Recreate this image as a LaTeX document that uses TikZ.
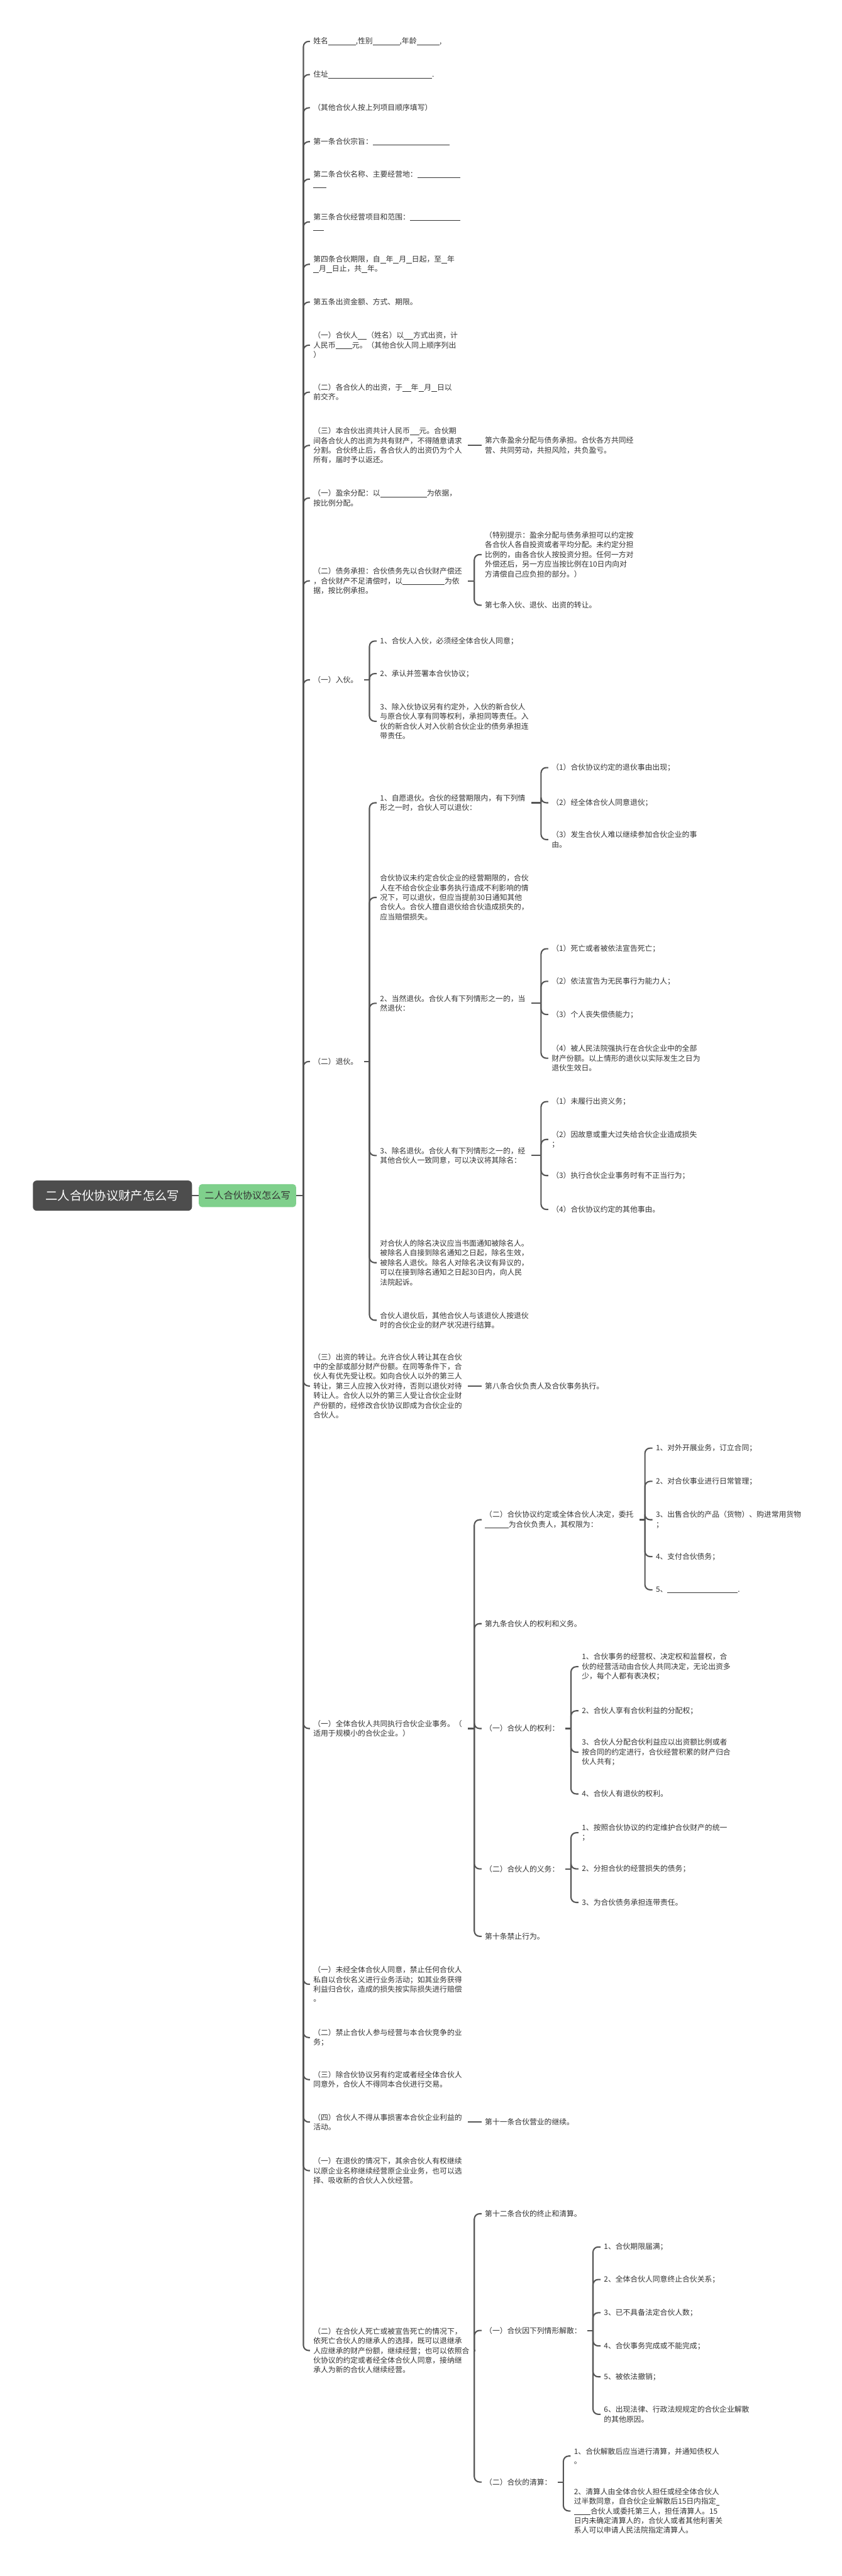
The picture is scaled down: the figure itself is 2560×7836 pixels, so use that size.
\documentclass[tikz,border=0pt]{standalone}
\usepackage{fontspec}
\setmainfont{Noto Sans CJK SC}
\definecolor{txt}{HTML}{333333}
\definecolor{ln}{HTML}{555555}
\definecolor{rootc}{HTML}{4D4D4D}
\definecolor{grn}{HTML}{7FD08C}
\newcommand\bl[1]{\rule[-2pt]{#1pt}{0.9pt}}
\begin{document}
\begin{tikzpicture}[x=0.5pt,y=-0.5pt,
  t/.style={anchor=west,inner sep=0pt,align=left,text=txt,font=\fontsize{11.3pt}{14.75pt}\selectfont},
  conn/.style={draw=ln,line width=2pt,rounded corners=8pt},
  rootbox/.style={fill=rootc,text=white,rounded corners=6pt,minimum width=242pt,minimum height=46pt,inner sep=0pt,font=\fontsize{18.5pt}{22pt}\selectfont},
  branchbox/.style={fill=grn,text=txt,rounded corners=5pt,minimum width=148pt,minimum height=35pt,inner sep=0pt,font=\fontsize{14.5pt}{18pt}\selectfont}]
\path[fill=white] (0,0) rectangle (2560,7836);
\useasboundingbox (0,0) rectangle (2560,7836);
% root and branch
\node[rootbox] (R) at (342,3637) {二人合伙协议财产怎么写};
\node[branchbox] (G) at (753,3637) {二人合伙协议怎么写};
% level 2
\node[t] (L1) at (953,126) {姓名\bl{42},性别\bl{41},年龄\bl{35},};
\node[t] (L2) at (953,227) {住址\bl{158}.};
\node[t] (L3) at (953,328) {（其他合伙人按上列项目顺序填写）};
\node[t] (L4) at (953,431) {第一条合伙宗旨：\bl{117}};
\node[t] (L5) at (953,545) {第二条合伙名称、主要经营地：\bl{65}\\\bl{20}};
\node[t] (L6) at (953,675) {第三条合伙经营项目和范围：\bl{77}\\\bl{16}};
\node[t] (L7) at (953,804) {第四条合伙期限，自\bl{8.5}年\bl{8.5}月\bl{8.5}日起，至\bl{8.5}年\\\bl{8.5}月\bl{8.5}日止，共\bl{8.5}年。};
\node[t] (L8) at (953,919) {第五条出资金额、方式、期限。};
\node[t] (L9) at (953,1050) {（一）合伙人\bl{13.5}（姓名）以\bl{14}方式出资，计\\人民币\bl{25}元。（其他合伙人同上顺序列出\\）};
\node[t] (L10) at (953,1193) {（二）各合伙人的出资，于\bl{13}年\bl{8.5}月\bl{8.5}日以\\前交齐。};
\node[t] (L11) at (953,1355) {（三）本合伙出资共计人民币\bl{14}元。合伙期\\间各合伙人的出资为共有财产，不得随意请求\\分割。合伙终止后，各合伙人的出资仍为个人\\所有，届时予以返还。};
\node[t] (L12) at (953,1515) {（一）盈余分配：以\bl{71}为依据，\\按比例分配。};
\node[t] (L13) at (953,1767) {（二）债务承担：合伙债务先以合伙财产偿还\\，合伙财产不足清偿时，以\bl{64}为依\\据，按比例承担。};
\node[t] (L14) at (953,2068) {（一）入伙。};
\node[t] (L15) at (953,3229) {（二）退伙。};
\node[t] (L16) at (953,4216) {（三）出资的转让。允许合伙人转让其在合伙\\中的全部或部分财产份额。在同等条件下，合\\伙人有优先受让权。如向合伙人以外的第三人\\转让，第三人应按入伙对待，否则以退伙对待\\转让人。合伙人以外的第三人受让合伙企业财\\产份额的，经修改合伙协议即成为合伙企业的\\合伙人。};
\node[t] (L17) at (953,5258) {（一）全体合伙人共同执行合伙企业事务。（\\适用于规模小的合伙企业。）};
\node[t] (L18) at (953,6036) {（一）未经全体合伙人同意，禁止任何合伙人\\私自以合伙名义进行业务活动；如其业务获得\\利益归合伙，造成的损失按实际损失进行赔偿\\。};
\node[t] (L19) at (953,6198) {（二）禁止合伙人参与经营与本合伙竞争的业\\务；};
\node[t] (L20) at (953,6326) {（三）除合伙协议另有约定或者经全体合伙人\\同意外，合伙人不得同本合伙进行交易。};
\node[t] (L21) at (953,6455) {（四）合伙人不得从事损害本合伙企业利益的\\活动。};
\node[t] (L22) at (953,6603) {（一）在退伙的情况下，其余合伙人有权继续\\以原企业名称继续经营原企业业务，也可以选\\择、吸收新的合伙人入伙经营。};
\node[t] (L23) at (953,7150) {（二）在合伙人死亡或被宣告死亡的情况下，\\依死亡合伙人的继承人的选择，既可以退继承\\人应继承的财产份额，继续经营；也可以依照合\\伙协议的约定或者经全体合伙人同意，接纳继\\承人为新的合伙人继续经营。};
% level 3
\node[t] (A6) at (1475,1355) {第六条盈余分配与债务承担。合伙各方共同经\\营、共同劳动，共担风险，共负盈亏。};
\node[t] (Atip) at (1475,1687) {（特别提示：盈余分配与债务承担可以约定按\\各合伙人各自投资或者平均分配。未约定分担\\比例的，由各合伙人按投资分担。任何一方对\\外偿还后，另一方应当按比例在10日内向对\\方清偿自己应负担的部分。）};
\node[t] (A7) at (1475,1841) {第七条入伙、退伙、出资的转让。};
\node[t] (B1) at (1156,1950) {1、合伙人入伙，必须经全体合伙人同意；};
\node[t] (B2) at (1156,2049) {2、承认并签署本合伙协议；};
\node[t] (B3) at (1156,2194) {3、除入伙协议另有约定外，入伙的新合伙人\\与原合伙人享有同等权利，承担同等责任。入\\伙的新合伙人对入伙前合伙企业的债务承担连\\带责任。};
\node[t] (C1) at (1156,2442) {1、自愿退伙。合伙的经营期限内，有下列情\\形之一时，合伙人可以退伙：};
\node[t] (C2) at (1156,2730) {合伙协议未约定合伙企业的经营期限的，合伙\\人在不给合伙企业事务执行造成不利影响的情\\况下，可以退伙，但应当提前30日通知其他\\合伙人。合伙人擅自退伙给合伙造成损失的，\\应当赔偿损失。};
\node[t] (C3) at (1156,3052) {2、当然退伙。合伙人有下列情形之一的，当\\然退伙：};
\node[t] (C4) at (1156,3515) {3、除名退伙。合伙人有下列情形之一的，经\\其他合伙人一致同意，可以决议将其除名：};
\node[t] (C5) at (1156,3841) {对合伙人的除名决议应当书面通知被除名人。\\被除名人自接到除名通知之日起，除名生效，\\被除名人退伙。除名人对除名决议有异议的，\\可以在接到除名通知之日起30日内，向人民\\法院起诉。};
\node[t] (C6) at (1156,4016) {合伙人退伙后，其他合伙人与该退伙人按退伙\\时的合伙企业的财产状况进行结算。};
\node[t] (A8) at (1475,4216) {第八条合伙负责人及合伙事务执行。};
\node[t] (D1) at (1475,4623) {（二）合伙协议约定或全体合伙人决定，委托\\\bl{36}为合伙负责人，其权限为：};
\node[t] (D2) at (1475,4939) {第九条合伙人的权利和义务。};
\node[t] (D3) at (1475,5258) {（一）合伙人的权利：};
\node[t] (D4) at (1475,5685) {（二）合伙人的义务：};
\node[t] (D5) at (1475,5890) {第十条禁止行为。};
\node[t] (A11) at (1475,6455) {第十一条合伙营业的继续。};
\node[t] (E1) at (1475,6734) {第十二条合伙的终止和清算。};
\node[t] (E2) at (1475,7089) {（一）合伙因下列情形解散：};
\node[t] (E3) at (1475,7550) {（二）合伙的清算：};
% level 4
\node[t] (C1a) at (1678,2335) {（1）合伙协议约定的退伙事由出现；};
\node[t] (C1b) at (1678,2442) {（2）经全体合伙人同意退伙；};
\node[t] (C1c) at (1678,2554) {（3）发生合伙人难以继续参加合伙企业的事\\由。};
\node[t] (C3a) at (1678,2886) {（1）死亡或者被依法宣告死亡；};
\node[t] (C3b) at (1678,2985) {（2）依法宣告为无民事行为能力人；};
\node[t] (C3c) at (1678,3086) {（3）个人丧失偿债能力；};
\node[t] (C3d) at (1678,3219) {（4）被人民法院强执行在合伙企业中的全部\\财产份额。以上情形的退伙以实际发生之日为\\退伙生效日。};
\node[t] (C4a) at (1678,3351) {（1）未履行出资义务；};
\node[t] (C4b) at (1678,3466) {（2）因故意或重大过失给合伙企业造成损失\\；};
\node[t] (C4c) at (1678,3576) {（3）执行合伙企业事务时有不正当行为；};
\node[t] (C4d) at (1678,3679) {（4）合伙协议约定的其他事由。};
\node[t] (D1a) at (1995,4405) {1、对外开展业务，订立合同；};
\node[t] (D1b) at (1995,4506) {2、对合伙事业进行日常管理；};
\node[t] (D1c) at (1995,4623) {3、出售合伙的产品（货物）、购进常用货物\\；};
\node[t] (D1d) at (1995,4735) {4、支付合伙债务；};
\node[t] (D1e) at (1995,4836) {5、\bl{107}.};
\node[t] (D3a) at (1770,5070) {1、合伙事务的经营权、决定权和监督权，合\\伙的经营活动由合伙人共同决定，无论出资多\\少，每个人都有表决权；};
\node[t] (D3b) at (1770,5204) {2、合伙人享有合伙利益的分配权；};
\node[t] (D3c) at (1770,5330) {3、合伙人分配合伙利益应以出资额比例或者\\按合同的约定进行，合伙经营积累的财产归合\\伙人共有；};
\node[t] (D3d) at (1770,5457) {4、合伙人有退伙的权利。};
\node[t] (D4a) at (1770,5575) {1、按照合伙协议的约定维护合伙财产的统一\\；};
\node[t] (D4b) at (1770,5685) {2、分担合伙的经营损失的债务；};
\node[t] (D4c) at (1770,5787) {3、为合伙债务承担连带责任。};
\node[t] (E2a) at (1837,6835) {1、合伙期限届满；};
\node[t] (E2b) at (1837,6934) {2、全体合伙人同意终止合伙关系；};
\node[t] (E2c) at (1837,7035) {3、已不具备法定合伙人数；};
\node[t] (E2d) at (1837,7136) {4、合伙事务完成或不能完成；};
\node[t] (E2e) at (1837,7230) {5、被依法撤销；};
\node[t] (E2f) at (1837,7344) {6、出现法律、行政法规规定的合伙企业解散\\的其他原因。};
\node[t] (E3a) at (1746,7471) {1、合伙解散后应当进行清算，并通知债权人\\。};
\node[t] (E3b) at (1746,7638) {2、清算人由全体合伙人担任或经全体合伙人\\过半数同意，自合伙企业解散后15日内指定\bl{5}\\\bl{25}合伙人或委托第三人，担任清算人。15\\日内未确定清算人的，合伙人或者其他利害关\\系人可以申请人民法院指定清算人。};
% connectors
\draw[conn] (R.east) -- (G.west);
\coordinate (t0) at (923,3637);
\draw[conn] (G.east) -- (t0);
\foreach \n in {L1,L2,L3,L4,L5,L6,L7,L8,L9,L10,L11,L12,L13,L14,L15,L16,L17,L18,L19,L20,L21,L22,L23}
  \draw[conn] (t0) |- ([xshift=-5pt]\n.west);
\draw[conn] ([xshift=9pt]L11.east) -- ([xshift=-5pt]A6.west);
\draw[conn] ([xshift=9pt]L16.east) -- ([xshift=-5pt]A8.west);
\draw[conn] ([xshift=9pt]L21.east) -- ([xshift=-5pt]A11.west);
\coordinate (t13) at (1443,1767);
\draw[conn] ([xshift=9pt]L13.east) -- (t13);
\foreach \n in {Atip,A7} \draw[conn] (t13) |- ([xshift=-5pt]\n.west);
\coordinate (t14) at (1124,2068);
\draw[conn] ([xshift=9pt]L14.east) -- (t14);
\foreach \n in {B1,B2,B3} \draw[conn] (t14) |- ([xshift=-5pt]\n.west);
\coordinate (t15) at (1124,3229);
\draw[conn] ([xshift=9pt]L15.east) -- (t15);
\foreach \n in {C1,C2,C3,C4,C5,C6} \draw[conn] (t15) |- ([xshift=-5pt]\n.west);
\coordinate (tc1) at (1646,2442);
\draw[conn] ([xshift=9pt]C1.east) -- (tc1);
\foreach \n in {C1a,C1b,C1c} \draw[conn] (tc1) |- ([xshift=-5pt]\n.west);
\coordinate (tc3) at (1646,3052);
\draw[conn] ([xshift=9pt]C3.east) -- (tc3);
\foreach \n in {C3a,C3b,C3c,C3d} \draw[conn] (tc3) |- ([xshift=-5pt]\n.west);
\coordinate (tc4) at (1646,3515);
\draw[conn] ([xshift=9pt]C4.east) -- (tc4);
\foreach \n in {C4a,C4b,C4c,C4d} \draw[conn] (tc4) |- ([xshift=-5pt]\n.west);
\coordinate (t17) at (1443,5258);
\draw[conn] ([xshift=9pt]L17.east) -- (t17);
\foreach \n in {D1,D2,D3,D4,D5} \draw[conn] (t17) |- ([xshift=-5pt]\n.west);
\coordinate (td1) at (1962,4623);
\draw[conn] ([xshift=9pt]D1.east) -- (td1);
\foreach \n in {D1a,D1b,D1c,D1d,D1e} \draw[conn] (td1) |- ([xshift=-5pt]\n.west);
\coordinate (td3) at (1737,5258);
\draw[conn] ([xshift=9pt]D3.east) -- (td3);
\foreach \n in {D3a,D3b,D3c,D3d} \draw[conn] (td3) |- ([xshift=-5pt]\n.west);
\coordinate (td4) at (1737,5685);
\draw[conn] ([xshift=9pt]D4.east) -- (td4);
\foreach \n in {D4a,D4b,D4c} \draw[conn] (td4) |- ([xshift=-5pt]\n.west);
\coordinate (t23) at (1443,7150);
\draw[conn] ([xshift=9pt]L23.east) -- (t23);
\foreach \n in {E1,E2,E3} \draw[conn] (t23) |- ([xshift=-5pt]\n.west);
\coordinate (te2) at (1804,7089);
\draw[conn] ([xshift=9pt]E2.east) -- (te2);
\foreach \n in {E2a,E2b,E2c,E2d,E2e,E2f} \draw[conn] (te2) |- ([xshift=-5pt]\n.west);
\coordinate (te3) at (1714,7550);
\draw[conn] ([xshift=9pt]E3.east) -- (te3);
\foreach \n in {E3a,E3b} \draw[conn] (te3) |- ([xshift=-5pt]\n.west);
\end{tikzpicture}
\end{document}
